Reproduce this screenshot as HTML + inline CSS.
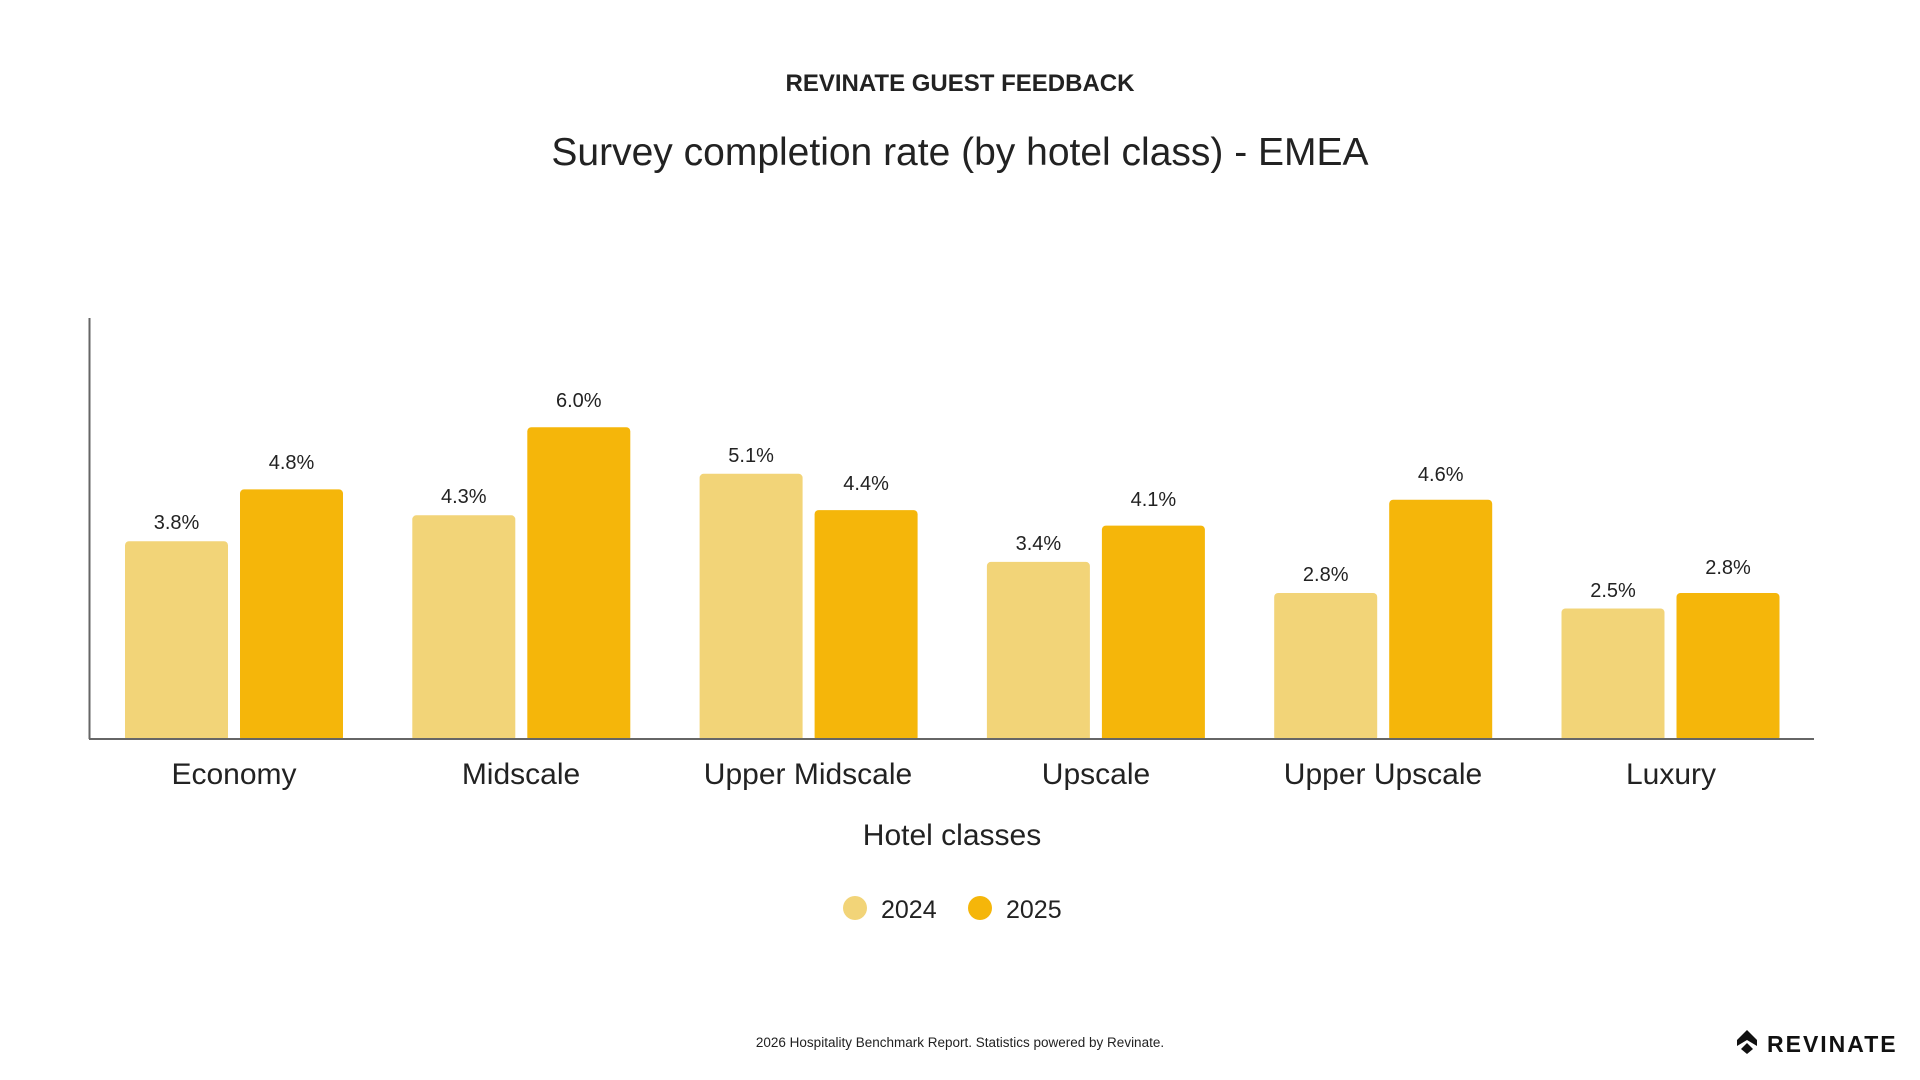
<!DOCTYPE html>
<html><head><meta charset="utf-8"><style>
html,body{margin:0;padding:0;background:#fff;}
svg{display:block;font-family:"Liberation Sans",sans-serif;}
</style></head><body>
<svg width="1920" height="1080" viewBox="0 0 1920 1080" xmlns="http://www.w3.org/2000/svg">
<text x="960" y="91" text-anchor="middle" font-size="24" font-weight="bold" fill="#222">REVINATE GUEST FEEDBACK</text>
<text x="960" y="165" text-anchor="middle" font-size="39" fill="#222">Survey completion rate (by hotel class) - EMEA</text>
<g fill="#F2D478">
<rect x="125" y="541.2" width="103" height="200" rx="4"/>
<rect x="412.3" y="515.3" width="103" height="226" rx="4"/>
<rect x="699.6" y="473.8" width="103" height="268" rx="4"/>
<rect x="986.9" y="561.9" width="103" height="180" rx="4"/>
<rect x="1274.2" y="593" width="103" height="148" rx="4"/>
<rect x="1561.5" y="608.5" width="103" height="133" rx="4"/>
</g>
<g fill="#F5B60A">
<rect x="240" y="489.4" width="103" height="252" rx="4"/>
<rect x="527.3" y="427.2" width="103" height="314" rx="4"/>
<rect x="814.6" y="510.1" width="103" height="231" rx="4"/>
<rect x="1101.9" y="525.6" width="103" height="216" rx="4"/>
<rect x="1389.2" y="499.7" width="103" height="242" rx="4"/>
<rect x="1676.5" y="593" width="103" height="148" rx="4"/>
</g>
<rect x="80" y="740" width="1760" height="10" fill="#fff"/>
<g font-size="20" fill="#222" text-anchor="middle">
<text x="176.5" y="529">3.8%</text>
<text x="291.5" y="469">4.8%</text>
<text x="463.8" y="503">4.3%</text>
<text x="578.8" y="407">6.0%</text>
<text x="751.1" y="462">5.1%</text>
<text x="866.1" y="490">4.4%</text>
<text x="1038.4" y="550">3.4%</text>
<text x="1153.4" y="506">4.1%</text>
<text x="1325.7" y="581">2.8%</text>
<text x="1440.7" y="481">4.6%</text>
<text x="1613" y="597">2.5%</text>
<text x="1728" y="574">2.8%</text>
</g>
<line x1="89.5" y1="318" x2="89.5" y2="739" stroke="#666" stroke-width="2"/>
<line x1="89" y1="739" x2="1814" y2="739" stroke="#666" stroke-width="2"/>
<g font-size="30" fill="#222" text-anchor="middle">
<text x="234" y="784">Economy</text>
<text x="521" y="784">Midscale</text>
<text x="808" y="784">Upper Midscale</text>
<text x="1096" y="784">Upscale</text>
<text x="1383" y="784">Upper Upscale</text>
<text x="1671" y="784">Luxury</text>
</g>
<text x="952" y="845" text-anchor="middle" font-size="30" fill="#222">Hotel classes</text>
<circle cx="855" cy="908" r="12" fill="#F2D478"/>
<text x="881" y="918" font-size="25" fill="#222">2024</text>
<circle cx="980" cy="908" r="12" fill="#F5B60A"/>
<text x="1006" y="918" font-size="25" fill="#222">2025</text>
<text x="960" y="1047" text-anchor="middle" font-size="13.5" fill="#222">2026 Hospitality Benchmark Report. Statistics powered by Revinate.</text>
<g transform="translate(1737,1030)">
<path d="M10 0 L20 10 L20 16 L10 10 L0 16 L0 10 Z" fill="#111"/>
<path d="M10 13 L16 19 L10 24 L4 19 Z" fill="#111"/>
</g>
<text x="1767" y="1052" font-size="23" font-weight="bold" letter-spacing="2" fill="#111">REVINATE</text>
</svg>
</body></html>
